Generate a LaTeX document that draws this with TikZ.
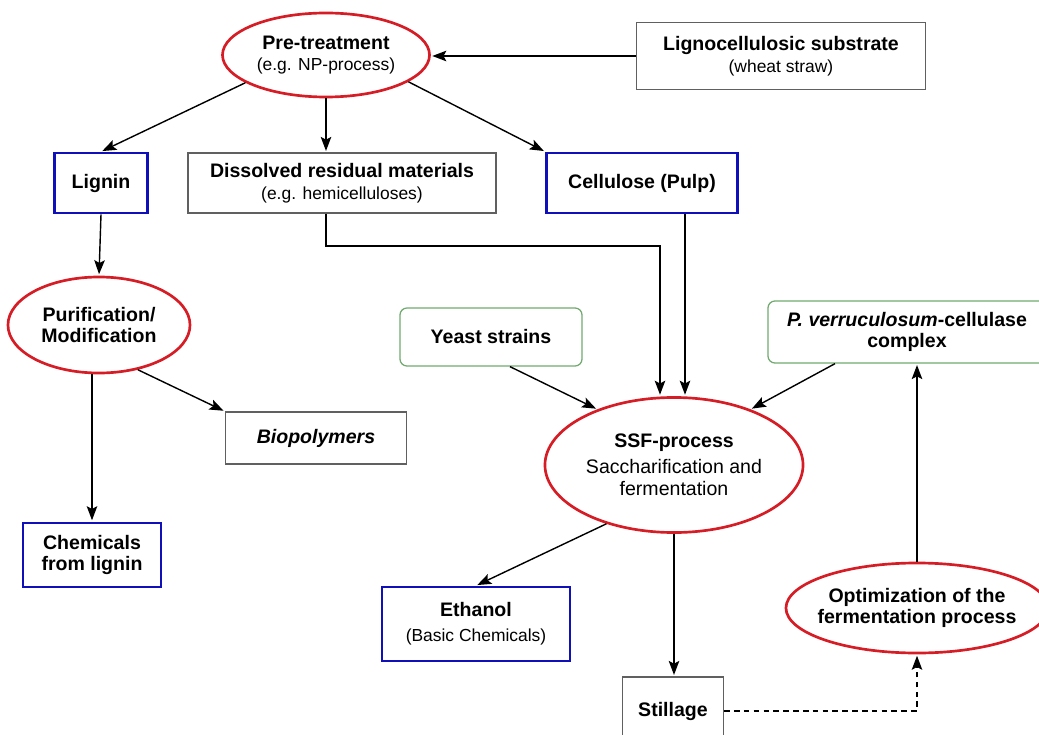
\documentclass[tikz,border=0pt]{standalone}
\usepackage{fontspec}
\setmainfont{Liberation Sans}
\usetikzlibrary{
        arrows.meta,
        calc,
        shapes.geometric
    }
\definecolor{procred}{RGB}{214,28,36}
\definecolor{prodblue}{RGB}{16,16,186}
\definecolor{inputgreen}{RGB}{112,170,112}
\definecolor{boxgray}{RGB}{96,96,96}
\newcommand\headfont{\fontsize{13.9}{15.5}\selectfont\bfseries}
\newcommand\notefont{\fontsize{12.4}{15.5}\selectfont\mdseries}
\newcommand\ssffont{\fontsize{13.9}{15.5}\selectfont\mdseries}
\tikzset{>={Stealth[length=10pt,width=7.5pt,inset=2pt]},shorten >=1pt}
\tikzset{
    process/.style={ellipse,draw=procred,line width=1.9pt,inner sep=0pt,align=center,font=\headfont},
    product/.style={rectangle,draw=prodblue,line width=1.9pt,align=center,font=\headfont},
    material/.style={rectangle,draw=boxgray,line width=0.9pt,align=center,font=\headfont},
    agent/.style={rectangle,rounded corners=5pt,draw=inputgreen,line width=0.9pt,align=center,font=\headfont},
    flow/.style={->,line width=1pt}
}

\begin{document}
\begin{tikzpicture}[x=0.025cm,y=-0.025cm]
        \useasboundingbox (0,0) rectangle (1039,735);
        % upper part: pre-treatment and its fractions
        \node[process,minimum width=5.175cm,minimum height=2.1cm] (pre) at (326,55)
            {Pre-treatment\\{\notefont(e.g. NP-process)}};
        \node[material,minimum width=7.225cm,minimum height=1.675cm] (sub) at (781,56)
            {Lignocellulosic substrate\\{\notefont(wheat straw)}};
        \node[product,minimum width=2.325cm,minimum height=1.5cm] (lignin) at (101,183) {Lignin};
        \node[material,minimum width=7.7cm,minimum height=1.5cm] (diss) at (342,183)
            {Dissolved residual materials\\{\notefont(e.g. hemicelluloses)}};
        \node[product,minimum width=4.775cm,minimum height=1.5cm] (cell) at (642,183) {Cellulose (Pulp)};
        % lignin branch
        \node[process,minimum width=4.55cm,minimum height=2.4cm] (purif) at (99,325)
            {Purification/\\Modification};
        \node[material,minimum width=4.525cm,minimum height=1.3cm] (biopol) at (316,438)
            {\itshape Biopolymers};
        \node[product,minimum width=3.45cm,minimum height=1.6cm] (chem) at (92,555)
            {Chemicals\\from lignin};
        % SSF branch
        \node[agent,minimum width=4.55cm,minimum height=1.45cm] (yeast) at (491,337) {Yeast strains};
        \node[agent,minimum width=6.95cm,minimum height=1.55cm] (pverr) at (907,332)
            {\textit{P. verruculosum}-cellulase\\complex};
        \node[process,minimum width=6.45cm,minimum height=3.375cm] (ssf) at (674,465)
            {SSF-process\\[3pt]{\ssffont Saccharification and}\\{\ssffont fermentation}};
        \node[product,minimum width=4.7cm,minimum height=1.85cm] (ethanol) at (476,624)
            {Ethanol\\[2pt]{\notefont(Basic Chemicals)}};
        \node[material,minimum width=2.525cm,minimum height=1.7cm] (still) at (673,711) {Stillage};
        \node[process,minimum width=6.55cm,minimum height=2.25cm,inner xsep=-0.3cm] (optim) at (917,608)
            {Optimization of the\\fermentation process};

        \coordinate (dbend) at (660,246);
        \coordinate (cdrop) at ($(cell.south)+(43,0)$);
        \draw[flow] (sub.west) -- (sub.west -| pre.east);
        \draw[flow] (pre.199) -- (lignin.north);
        \draw[flow] (pre.south) -- (pre.south |- diss.north);
        \draw[flow] (pre.-18) -- (cell.north west);
        \draw[flow] (lignin.south) -- (purif.north);
        \draw[flow] (purif.-49) -- (biopol.north west);
        \draw[flow] (purif.south -| chem.north) -- (chem.north);
        \draw[flow] (diss.south -| pre.south) |- (dbend) -- (dbend |- ssf.north);
        \draw[flow] (cdrop) -- (cdrop |- ssf.north);
        \draw[flow] ($(yeast.south)+(19,0)$) -- (ssf.144);
        \draw[flow] ($(pverr.south)+(-72,0)$) -- (ssf.36);
        \draw[flow] (ssf.221) -- (ethanol.north);
        \draw[flow] (ssf.south) -- (ssf.south |- still.north);
        \draw[flow] (optim.north) -- (optim.north |- pverr.south);
        \draw[flow,dash pattern=on 4pt off 3pt] (still.east) -| (optim.south);
\end{tikzpicture}
\end{document}
